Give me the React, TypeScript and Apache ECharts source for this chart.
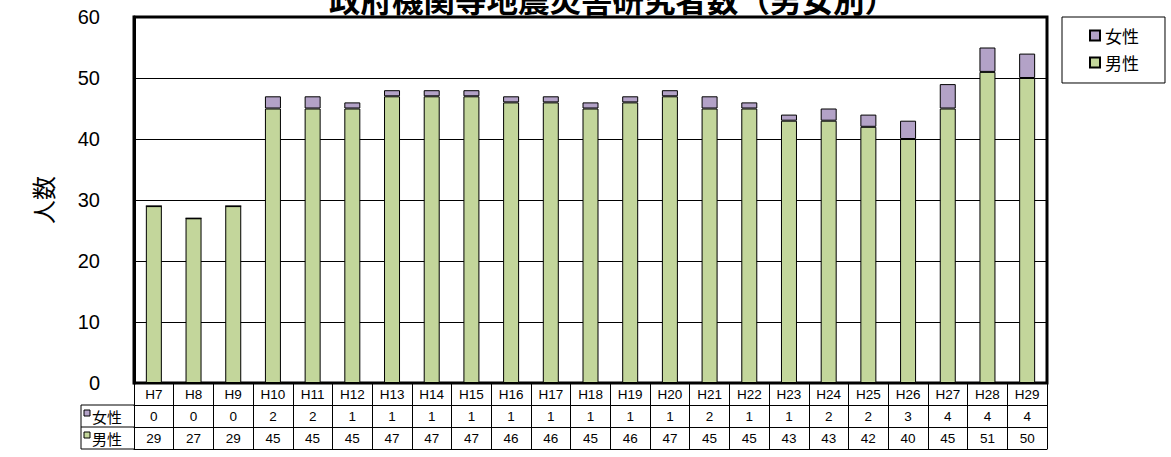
import React, { useEffect, useRef } from "react";
import * as echarts from "echarts";

const titleText = "政府機関等地震災害研究者数（男女別）";
const categories = ["H7","H8","H9","H10","H11","H12","H13","H14","H15","H16","H17","H18","H19","H20","H21","H22","H23","H24","H25","H26","H27","H28","H29"];
const female = [0,0,0,2,2,1,1,1,1,1,1,1,1,1,2,1,1,2,2,3,4,4,4];
const male = [29,27,29,45,45,45,47,47,47,46,46,45,46,47,45,45,43,43,42,40,45,51,50];
const yTicks = { min: 0, max: 60, interval: 10 };

const FONT = "'Liberation Sans', 'Noto Sans CJK JP', sans-serif";
const JFONT = "'Noto Sans CJK JP', sans-serif";
const GREEN = "#c3d69b";
const PURPLE = "#b3a2c7";

export default function App() {
  const ref = useRef<HTMLDivElement>(null);
  useEffect(() => {
    document.body.style.margin = "0";
    const chart = echarts.init(ref.current!, null, { renderer: "svg" });
    const gridLeft = 134, gridRight = 124, gridTop = 17, gridBottom = 74;
    const rowH = 22;
    const tableAxis = (offset: number, fmt: ((v: any, i: number) => string) | null, tick: boolean) => ({
      type: "category",
      data: categories,
      position: "bottom",
      offset,
      axisLine: { show: true, lineStyle: { color: "#000", width: 1 } },
      axisTick: { show: tick, length: rowH, interval: 0, lineStyle: { color: "#000", width: 1 } },
      axisLabel: fmt
        ? { show: true, interval: 0, formatter: fmt, fontSize: 13.5, color: "#000", fontFamily: FONT, margin: 5 }
        : { show: false },
      splitLine: { show: false },
    });
    chart.setOption({
      animation: false,
      title: {
        text: titleText,
        left: 324,
        top: -23,
        textStyle: { fontSize: 31.5, fontWeight: "bold", color: "#000", fontFamily: JFONT },
      },
      legend: {
        data: ["女性", "男性"],
        orient: "vertical",
        left: 1062,
        top: 17,
        icon: "rect",
        itemWidth: 10,
        itemHeight: 10,
        itemGap: 10,
        padding: [10, 26, 12, 27],
        borderColor: "#000",
        borderWidth: 1,
        textStyle: { fontSize: 17, color: "#000", fontFamily: JFONT },
      },
      grid: {
        left: gridLeft,
        right: gridRight,
        top: gridTop,
        bottom: gridBottom,
        show: true,
        borderColor: "#000",
        borderWidth: 3,
        backgroundColor: "transparent",
      },
      xAxis: [
        tableAxis(0, (v: any) => String(v), true),
        tableAxis(rowH, (_v: any, i: number) => String(female[i]), true),
        tableAxis(rowH * 2, (_v: any, i: number) => String(male[i]), true),
        tableAxis(rowH * 3, null, false),
      ],
      yAxis: {
        type: "value",
        min: yTicks.min,
        max: yTicks.max,
        interval: yTicks.interval,
        name: "人数",
        nameLocation: "middle",
        nameGap: 80,
        nameTextStyle: { fontSize: 24, color: "#000", fontFamily: JFONT },
        axisLine: { show: true, lineStyle: { color: "#000", width: 3 } },
        axisTick: { show: false },
        axisLabel: { fontSize: 20, color: "#000", fontFamily: FONT, margin: 34 },
        splitLine: { show: true, lineStyle: { color: "#000", width: 1 } },
      },
      series: [
        {
          name: "男性",
          type: "bar",
          stack: "total",
          data: male,
          barWidth: 16,
          itemStyle: { color: GREEN, borderColor: "#000", borderWidth: 1 },
        },
        {
          name: "女性",
          type: "bar",
          stack: "total",
          data: female,
          barWidth: 16,
          itemStyle: { color: PURPLE, borderColor: "#000", borderWidth: 1 },
        },
      ],
      graphic: [
        { type: "line", shape: { x1: 81, y1: 405, x2: 134, y2: 405 }, style: { stroke: "#000", lineWidth: 1 } },
        { type: "line", shape: { x1: 81, y1: 427, x2: 134, y2: 427 }, style: { stroke: "#000", lineWidth: 1 } },
        { type: "line", shape: { x1: 81, y1: 449, x2: 134, y2: 449 }, style: { stroke: "#000", lineWidth: 1 } },
        { type: "line", shape: { x1: 81, y1: 405, x2: 81, y2: 449 }, style: { stroke: "#000", lineWidth: 1 } },
        { type: "rect", shape: { x: 84, y: 410, width: 6, height: 6 }, style: { fill: PURPLE, stroke: "#000", lineWidth: 1 } },
        { type: "text", x: 92, y: 416, style: { text: "女性", fontSize: 15, fill: "#000", fontFamily: JFONT, verticalAlign: "middle" } },
        { type: "rect", shape: { x: 84, y: 432, width: 6, height: 6 }, style: { fill: GREEN, stroke: "#000", lineWidth: 1 } },
        { type: "text", x: 92, y: 438, style: { text: "男性", fontSize: 15, fill: "#000", fontFamily: JFONT, verticalAlign: "middle" } },
      ],
    });
    return () => chart.dispose();
  }, []);
  return <div ref={ref} style={{ width: 1171, height: 457 }} />;
}
